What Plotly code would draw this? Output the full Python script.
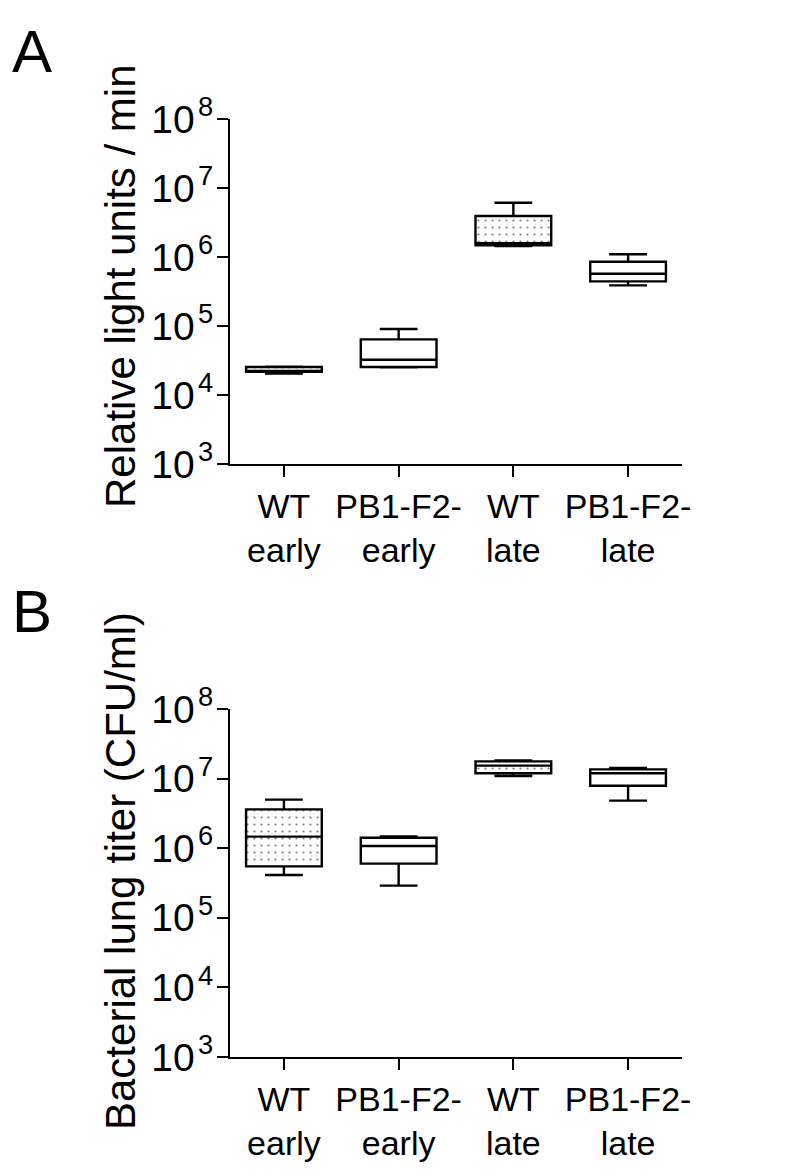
import plotly.graph_objects as go

categories = ["WT<br>early", "PB1-F2-<br>early", "WT<br>late", "PB1-F2-<br>late"]
dotted = [True, False, True, False]

# Panel A: Relative light units / min (box statistics)
a_low = [2.04e4, 2.52e4, 1.445e6, 3.88e5]
a_q1 = [2.16e4, 2.55e4, 1.476e6, 4.44e5]
a_med = [2.24e4, 3.25e4, 1.585e6, 5.73e5]
a_q3 = [2.54e4, 6.41e4, 3.93e6, 8.55e5]
a_high = [2.57e4, 9.06e4, 6.12e6, 1.094e6]

# Panel B: Bacterial lung titer (CFU/ml)
b_low = [4.12e5, 2.90e5, 1.089e7, 4.82e6]
b_q1 = [5.48e5, 6.00e5, 1.191e7, 7.91e6]
b_med = [1.466e6, 1.076e6, 1.535e7, 1.191e7]
b_q3 = [3.61e6, 1.416e6, 1.770e7, 1.358e7]
b_high = [4.98e6, 1.479e6, 1.828e7, 1.419e7]

exponents = [3, 4, 5, 6, 7, 8]
tick_vals = [10 ** e for e in exponents]
tick_text = ["10\u200a<sup>%d</sup>" % e for e in exponents]

FONT = "Liberation Sans, Arial, sans-serif"
BOX_W = 0.66

fig = go.Figure()


def add_panel(xa, ya, low, q1, med, q3, high):
    cats = [c for c, d in zip(categories, dotted) if d]
    base = [v for v, d in zip(q1, dotted) if d]
    top = [b - a for a, b, d in zip(q1, q3, dotted) if d]
    fig.add_trace(go.Bar(
        x=cats, y=top, base=base, width=BOX_W,
        marker=dict(color="white", line=dict(width=0),
                    pattern=dict(shape=".", fgcolor="black", bgcolor="white",
                                 size=7, solidity=0.08)),
        xaxis=xa, yaxis=ya, showlegend=False, hoverinfo="skip"))
    fig.add_trace(go.Box(
        x=categories, q1=q1, median=med, q3=q3,
        lowerfence=low, upperfence=high,
        width=BOX_W, whiskerwidth=0.5,
        fillcolor="rgba(0,0,0,0)",
        line=dict(color="black", width=2.4),
        boxpoints=False,
        xaxis=xa, yaxis=ya, showlegend=False))


add_panel("x", "y", a_low, a_q1, a_med, a_q3, a_high)
add_panel("x2", "y2", b_low, b_q1, b_med, b_q3, b_high)

W, H = 800, 1175
OFF = 8  # page body margin of the browser


def px_x(v):
    return (v - OFF) / W


def px_y(v):
    return 1 - (v - OFF) / H


xdom = [px_x(230), px_x(682)]

xaxis_common = dict(
    domain=xdom, type="category", range=[-0.47, 3.47], automargin=False,
    showline=True, linecolor="black", linewidth=2,
    ticks="outside", ticklen=11, tickwidth=2, tickcolor="black",
    tickfont=dict(family=FONT, size=34, color="black"),
    showgrid=False, zeroline=False, categoryorder="array",
    categoryarray=categories,
)
yaxis_common = dict(
    type="log", range=[3, 8], tickvals=tick_vals, ticktext=tick_text,
    automargin=False, ticklabelstandoff=-4,
    showline=True, linecolor="black", linewidth=2,
    ticks="outside", ticklen=11, tickwidth=2, tickcolor="black",
    tickfont=dict(family=FONT, size=39, color="black"),
    showgrid=False, zeroline=False,
)

fig.update_layout(
    width=W, height=H,
    margin=dict(l=0, r=0, t=0, b=0, autoexpand=False),
    paper_bgcolor="white", plot_bgcolor="white",
    barmode="overlay",
    xaxis=dict(xaxis_common, anchor="y"),
    yaxis=dict(yaxis_common, domain=[px_y(464), px_y(119)], anchor="x"),
    xaxis2=dict(xaxis_common, anchor="y2"),
    yaxis2=dict(yaxis_common, domain=[px_y(1057), px_y(709)], anchor="x2"),
    annotations=[
        dict(text="A", x=px_x(10), y=px_y(16), xref="paper", yref="paper",
             xanchor="left", yanchor="top", showarrow=False,
             font=dict(family=FONT, size=60, color="black")),
        dict(text="B", x=px_x(10), y=px_y(576), xref="paper", yref="paper",
             xanchor="left", yanchor="top", showarrow=False,
             font=dict(family=FONT, size=60, color="black")),
        dict(text="Relative light units / min", x=px_x(120), y=px_y(286),
             xref="paper", yref="paper", xanchor="center", yanchor="middle",
             textangle=-90, showarrow=False,
             font=dict(family=FONT, size=42, color="black")),
        dict(text="Bacterial lung titer (CFU/ml)", x=px_x(120), y=px_y(871),
             xref="paper", yref="paper", xanchor="center", yanchor="middle",
             textangle=-90, showarrow=False,
             font=dict(family=FONT, size=42, color="black")),
    ],
)

fig.write_html("out.html")
